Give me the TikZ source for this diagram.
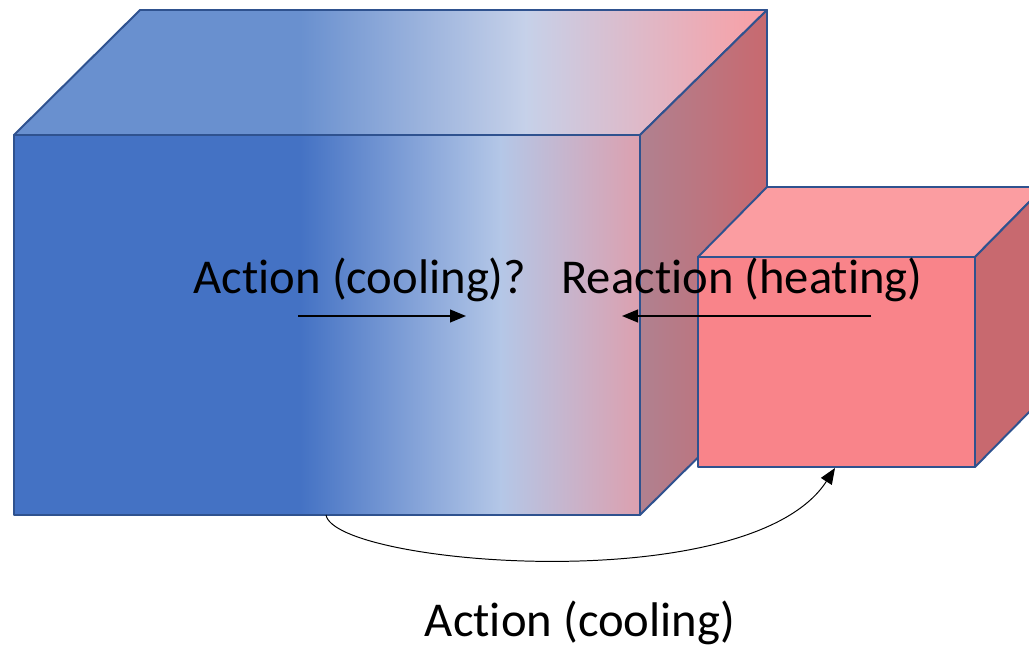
\documentclass[tikz,border=0pt]{standalone}
\usepackage{fontspec}
\setmainfont{Carlito}[Ligatures=NoCommon]
\usetikzlibrary{arrows.meta}

\definecolor{edgeblue}{HTML}{2F528F}
\definecolor{coldfront}{HTML}{4472C4}
\definecolor{midfront}{HTML}{B4C7E7}
\definecolor{warmfront}{HTML}{DCA0AF}
\definecolor{coldtop}{HTML}{6990CF}
\definecolor{midtop}{HTML}{C6D1E9}
\definecolor{warmtop}{HTML}{FA9EA3}
\definecolor{sideleft}{HTML}{B08190}
\definecolor{sideright}{HTML}{C8696F}
\definecolor{hotfront}{HTML}{F9848A}
\definecolor{hottop}{HTML}{FB9DA1}

\tikzset{
  face/.style={draw=edgeblue, line width=1.4pt, line join=round},
  heattext/.style={inner sep=0pt, anchor=base, font=\fontsize{34.6}{40}\selectfont},
  push/.style={-{Triangle[length=4mm,width=3.2mm]}, line width=1.2pt},
  bend push/.style={-{Triangle[length=4mm,width=3.2mm]}, line width=0.7pt}
}

\begin{document}
\begin{tikzpicture}[x=0.25mm, y=-0.25mm]

  \useasboundingbox (0,0) rectangle (1029,650);
  \clip (0,0) rectangle (1029,650);

  % --- big box, top ---
  \begin{scope}
    \clip (14,135) -- (140,10) -- (767,10) -- (640,135) -- cycle;
    \fill[coldtop] (10,5) rectangle (301,140);
    \shade[left color=coldtop, right color=midtop] (300,5) rectangle (526,140);
    \shade[left color=midtop, right color=warmtop] (525,5) rectangle (770,140);
  \end{scope}
  \draw[face] (14,135) -- (140,10) -- (767,10) -- (640,135) -- cycle;

  % --- big box, side ---
  \shade[left color=sideleft, right color=sideright]
    (640,135) -- (767,10) -- (767,389) -- (640,515) -- cycle;
  \draw[face] (640,135) -- (767,10) -- (767,389) -- (640,515) -- cycle;

  % --- big box, front ---
  \fill[coldfront] (14,135) rectangle (301,515);
  \shade[left color=coldfront, right color=midfront] (300,135) rectangle (501,515);
  \shade[left color=midfront, right color=warmfront] (500,135) rectangle (640,515);
  \draw[face] (14,135) rectangle (640,515);

  % --- small box ---
  \draw[face, fill=hottop] (698,257) -- (767,187) -- (1044,187) -- (975,257) -- cycle;
  \draw[face, fill=sideright] (975,257) -- (1044,187) -- (1044,397) -- (975,467) -- cycle;
  \draw[face, fill=hotfront] (698,257) rectangle (975,467);

  % --- texte ---
  \node[heattext] (askcool) at (360,293) {Action (cooling)?};
  \node[heattext] (heat) at (742,293) {Reaction (heating)};
  \node[heattext] (cool) at (580,636) {Action (cooling)};

  % --- fleches ---
  \coordinate (coolstart) at (298,316);
  \coordinate (coolend) at (466,316);
  \coordinate (heatstart) at (871,316);
  \coordinate (heatend) at (622,316);
  \coordinate (bigbottom) at (326,515);
  \coordinate (smallbottom) at (835,468);

  \draw[push] (coolstart) -- (coolend);
  \draw[push] (heatstart) -- (heatend);
  \draw[bend push] (bigbottom) .. controls (335,565) and (750,600) .. (smallbottom);

\end{tikzpicture}
\end{document}
